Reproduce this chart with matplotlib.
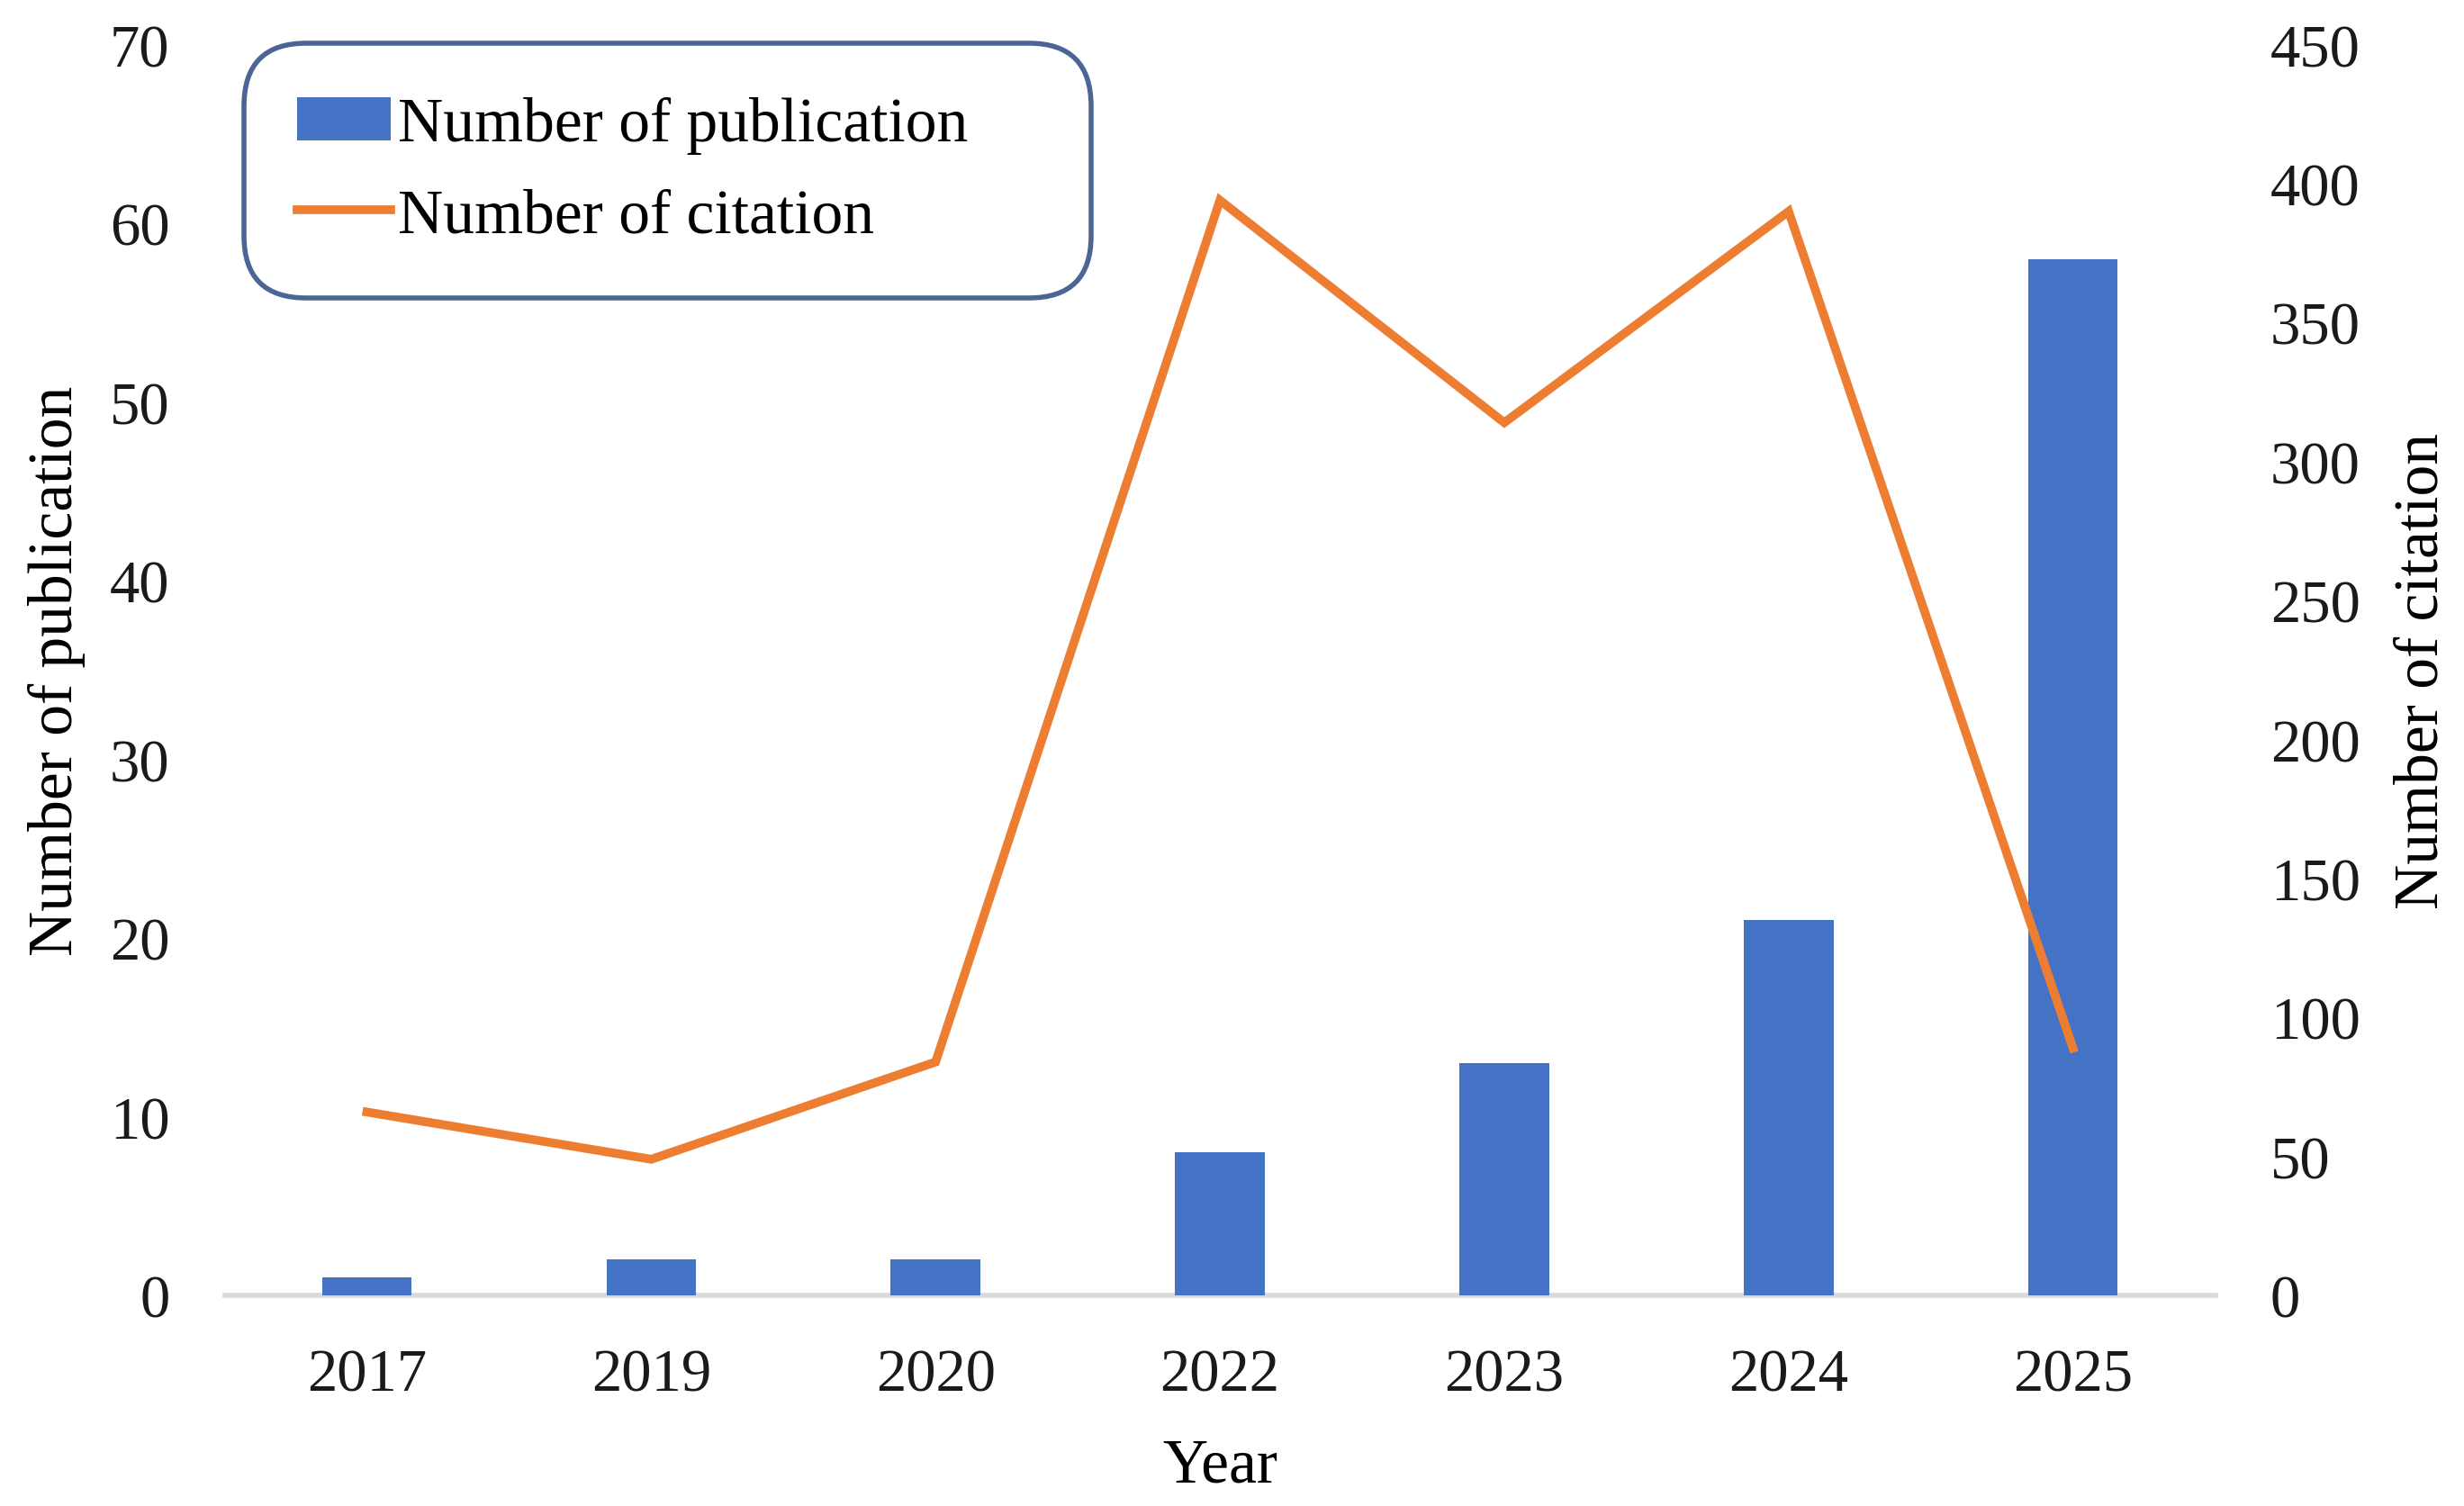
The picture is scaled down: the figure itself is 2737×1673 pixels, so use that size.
import numpy as np
import matplotlib.pyplot as plt

# データ
years = ["2017", "2019", "2020", "2022", "2023", "2024", "2025"]
publications = [1, 2, 2, 8, 13, 21, 58]
citations = [66, 49, 84, 394, 314, 390, 89]

blue = "#4472C4"
orange = "#ED7D31"

plt.rcParams['font.family'] = ['Liberation Serif', 'DejaVu Serif']

fig = plt.figure(figsize=(27.37, 16.74), dpi=100)
ax = fig.add_axes([0.0912, 0.1397, 0.8078, 0.8301])
ax2 = ax.twinx()

x = np.arange(len(years))
bars = ax.bar(x, publications, width=0.315, color=blue, label="Number of publication", zorder=2)
line, = ax2.plot(x, citations, color=orange, linewidth=7, label="Number of citation",
                 solid_joinstyle="miter", zorder=3)

ax.set_xlim(-0.5, len(years) - 0.5)
ax.set_ylim(0, 70)
ax2.set_ylim(0, 450)
ax.set_yticks(np.arange(0, 71, 10))
ax2.set_yticks(np.arange(0, 451, 50))
ax.set_xticks(x)
ax.set_xticklabels(years)

# 軸の見た目（Excel風）
for a in (ax, ax2):
    for s in a.spines.values():
        s.set_visible(False)
ax.spines["bottom"].set_visible(True)
ax.spines["bottom"].set_color("#D9D9D9")
ax.spines["bottom"].set_linewidth(4)
ax.spines["bottom"].set_zorder(1)

ax.tick_params(axis="both", length=0, labelsize=48, colors="#1a1a1a")
ax.tick_params(axis="y", pad=44)
ax.tick_params(axis="x", pad=42)
ax2.tick_params(axis="y", length=0, labelsize=48, pad=44, colors="#1a1a1a")

ax.set_xlabel("Year", fontsize=50, labelpad=28)
ax.set_ylabel("Number of publication", fontsize=50, labelpad=19)
ax2.set_ylabel("Number of citation", fontsize=50, labelpad=27)

ax2.set_zorder(ax.get_zorder() + 1)
ax2.patch.set_visible(False)

# 凡例（角丸の枠）
leg = ax2.legend([bars, line], ["Number of publication", "Number of citation"],
                 loc="upper left", bbox_to_anchor=(0.0095, 0.801, 0.426, 0.2), mode="expand",
                 fontsize=50, frameon=True, fancybox=True, handlelength=1.5,
                 handletextpad=0.12, borderpad=0.85, labelspacing=0.54, borderaxespad=0)
frame = leg.get_frame()
frame.set_edgecolor("#203F7A")
frame.set_linewidth(4)
frame.set_boxstyle("round,pad=0.0,rounding_size=1.0")

fig.savefig("out.png", dpi=100)
